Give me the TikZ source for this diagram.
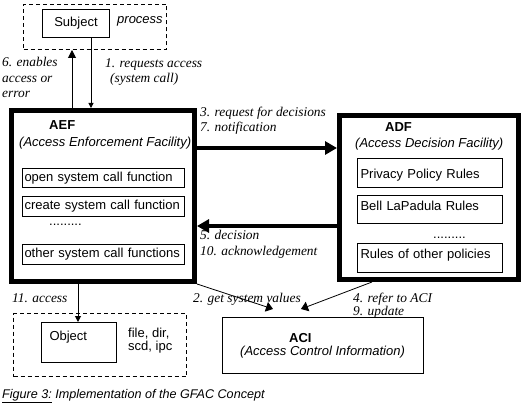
\documentclass[tikz,border=0pt]{standalone}
\usepackage{fontspec}
\setmainfont{Liberation Sans}
\newfontfamily\stepfont{Liberation Serif}
\usetikzlibrary{arrows.meta, positioning}

\tikzset{
	txt/.style={font=\fontsize{13}{15.5}\selectfont, inner sep=0pt},
	steplabel/.style={font=\stepfont\itshape\fontsize{13.4}{15.5}\selectfont,
		inner sep=0pt, anchor=base west, align=left},
	dashbox/.style={draw, line width=1pt, dash pattern=on 4pt off 3pt, anchor=north west},
	facility/.style={draw, line width=5pt, anchor=north west},
	funcbox/.style={draw, line width=1pt, txt, anchor=north west, inner xsep=2pt,
		minimum width=162, minimum height=19, text width=158, align=left},
	rulebox/.style={draw, line width=1pt, txt, anchor=north west, inner xsep=3pt,
		minimum width=145, text width=139, align=left, text height=15, text depth=14},
	thinarrow/.style={line width=1pt, -{Triangle[length=6pt, width=6pt]}},
	thickarrow/.style={line width=4pt, -{Triangle[length=12pt, width=13pt]}}
}

\begin{document}
\begin{tikzpicture}[x=1pt, y=-1pt]
	\useasboundingbox (0,0) rectangle (525,409);

	% subject side
	\node[dashbox, minimum width=143, minimum height=45] (subjectarea) at (23,4) {};
	\node[draw, line width=1pt, txt, anchor=north west, minimum width=67, minimum height=28]
		(subject) at (42,9) {Subject};
	\node[txt, anchor=base west] (process) at (117,24) {\itshape process};

	% AEF
	\node[facility, minimum width=183, minimum height=171] (aef) at (9,108) {};
	\node[txt, anchor=base west] (aeftitle) at (49,130) {\bfseries AEF};
	\node[txt, anchor=base west] (aefname) at (19,147) {\itshape (Access Enforcement Facility)};
	\node[funcbox] (openfn)   at (22,168) {open system call function};
	\node[funcbox, minimum height=20] (createfn) at (22,196) {create system call function};
	\node[txt, anchor=base west] (aefdots) at (49,225) {.........};
	\node[funcbox, minimum height=20] (otherfn)  at (22,244) {other system call functions};

	% ADF
	\node[facility, minimum width=179, minimum height=164] (adf) at (337,113) {};
	\node[txt, anchor=base west] (adftitle) at (385,132) {\bfseries ADF};
	\node[txt, anchor=base west] (adfname) at (355,148) {\itshape (Access Decision Facility)};
	\node[rulebox, text height=20, text depth=9] (privacy) at (357,158) {Privacy Policy Rules};
	\node[rulebox, text depth=13] (bell)    at (357,195) {Bell LaPadula Rules};
	\node[txt, anchor=base west] (adfdots) at (433,238) {.........};
	\node[rulebox] (otherrules) at (357,243) {Rules of other policies};

	% ACI
	\node[draw, line width=1pt, anchor=north west, minimum width=201, minimum height=56]
		(aci) at (222,317) {};
	\node[txt, anchor=base west] (acititle) at (289,342) {\bfseries ACI};
	\node[txt, anchor=base west] (aciname) at (240,355) {\itshape (Access Control Information)};

	% object side
	\node[dashbox, minimum width=173, minimum height=63] (objectarea) at (13,313) {};
	\node[draw, line width=1pt, txt, anchor=north west, inner xsep=8pt, minimum width=75,
		text width=59, align=left, text height=18, text depth=22] (object) at (41,322) {Object};
	\node[txt, font=\fontsize{13}{13}\selectfont, anchor=base west, align=left]
		(objkinds) at (128,350) {file, dir,\\scd, ipc};

	% connector positions
	\coordinate (upx) at (72,0);
	\coordinate (downx) at (91,0);
	\coordinate (accessx) at (78,0);
	\coordinate (referx) at (372,0);
	\coordinate (requesty) at (0,148);
	\coordinate (decisiony) at (0,226);
	\coordinate (sysend) at (273,309);
	\coordinate (referend) at (301,309);

	\draw[line width=1pt, -{Triangle[length=8pt, width=8pt]}]
		(aef.north -| upx) -- (subjectarea.south -| upx);
	\draw[thinarrow, -{Triangle[length=5pt, width=5pt]}]
		(subject.south -| downx) -- (aef.north -| downx);
	\draw[thickarrow] (aef.east |- requesty) -- (adf.west |- requesty);
	\draw[thickarrow] (adf.west |- decisiony) -- (aef.east |- decisiony);
	\draw[line width=0.8pt, -{Triangle[length=7pt, width=10pt]}] (aef.south east) -- (sysend);
	\draw[line width=0.8pt, -{Triangle[length=7pt, width=10pt]}] (adf.south -| referx) -- (referend);
	\draw[thinarrow] (aef.south -| accessx) -- (object.north -| accessx);

	% step labels (base = last line)
	\node[steplabel] (enables) at (2,98) {6. enables\\access or\\error};
	\node[steplabel] (requests) at (105,83) {1. requests access\\\hspace*{5pt}(system call)};
	\node[steplabel] (request) at (200,132) {3. request for decisions\\7. notification};
	\node[steplabel] (decision) at (200,255) {5. decision\\10. acknowledgement};
	\node[steplabel] (access) at (12,302) {11. access};
	\node[steplabel] (sysvalues) at (193,302) {2. get system values};
	\node[steplabel, font=\stepfont\itshape\fontsize{13.4}{13}\selectfont]
		(refer) at (353,315) {4. refer to ACI\\9. update};

	\node[txt, font=\fontsize{12.6}{15}\selectfont, anchor=base west] (caption) at (2,398)
		{\itshape\underline{Figure 3:} Implementation of the GFAC Concept};
\end{tikzpicture}
\end{document}
